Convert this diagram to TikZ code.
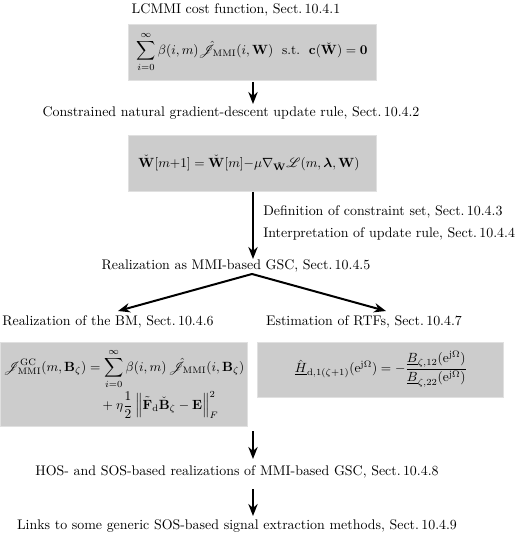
\documentclass[tikz,border=0pt]{standalone}
\usepackage{amsmath,amssymb,mathrsfs,bm}
\usetikzlibrary{arrows.meta}
\begin{document}
\begin{tikzpicture}[x=0.75pt,y=-0.75pt,
  lbl/.style={inner sep=0pt,anchor=center,scale=1.045},
  mth/.style={inner sep=0pt,anchor=center},
  mbox/.style={fill=black!20,draw=black!12,inner sep=0pt},
  arr/.style={line width=1.5pt,-{Stealth[length=9pt,width=7pt]}}]
\useasboundingbox (0,0) rectangle (517,538);
% titles
\node[lbl] (t1) at (236,10) {LCMMI cost function, Sect.\,10.4.1};
\node[lbl] (t2) at (231,113) {Constrained natural gradient-descent update rule, Sect.\,10.4.2};
\node[lbl] (t5) at (236,266) {Realization as MMI-based GSC, Sect.\,10.4.5};
\node[lbl] (t6) at (108,322) {Realization of the BM, Sect.\,10.4.6};
\node[lbl] (t7) at (364,322) {Estimation of RTFs, Sect.\,10.4.7};
\node[lbl] (t8) at (237,472) {HOS- and SOS-based realizations of MMI-based GSC, Sect.\,10.4.8};
\node[lbl] (t9) at (237,526) {Links to some generic SOS-based signal extraction methods, Sect.\,10.4.9};
\node[lbl,anchor=west] (l3) at (263,212) {Definition of constraint set, Sect.\,10.4.3};
\node[lbl,anchor=west] (l4) at (263,234) {Interpretation of update rule, Sect.\,10.4.4};
% boxes
\path[mbox] (128,24) rectangle (376,80);
\node[mth] (b1) at (252,52) {$\displaystyle\sum_{i=0}^{\infty}\beta(i,m)\hat{\mathscr{J}}_{\mathrm{MMI}}(i,\mathbf{W})\ \ \text{s.t.}\ \ \mathbf{c}(\check{\mathbf{W}})=\mathbf{0}$};
\path[mbox] (128,135) rectangle (376,191);
\node[mth] (b2) at (249,163) {$\check{\mathbf{W}}[m{+}1]=\check{\mathbf{W}}[m]{-}\mu\nabla_{\check{\mathbf{W}}}\mathscr{L}(m,\bm{\lambda},\mathbf{W})$};
\path[mbox] (0,342) rectangle (247,426);
\node[mth] (b3) at (124,384) {$\begin{aligned}\mathscr{J}^{\mathrm{GC}}_{\mathrm{MMI}}(m,\mathbf{B}_\zeta)&=\sum_{i=0}^{\infty}\beta(i,m)\,\hat{\mathscr{J}}_{\mathrm{MMI}}(i,\mathbf{B}_\zeta)\\[-2pt]
&\quad+\eta\frac{1}{2}\left\|\tilde{\mathbf{F}}_{\mathrm{d}}\check{\mathbf{B}}_\zeta-\mathbf{E}\right\|_F^2\end{aligned}$};
\path[mbox] (257,342) rectangle (503,397);
\node[mth] (b4) at (381,369) {$\hat{\underline{H}}_{\mathrm{d},1(\zeta+1)}(\mathrm{e}^{\mathrm{j}\Omega})=-\dfrac{\underline{B}_{\zeta,12}(\mathrm{e}^{\mathrm{j}\Omega})}{\underline{B}_{\zeta,22}(\mathrm{e}^{\mathrm{j}\Omega})}$};
% arrows
\coordinate (a1s) at (253,82); \coordinate (a1e) at (253,104);
\coordinate (a2s) at (253,192); \coordinate (a2e) at (253,259);
\coordinate (br) at (252,274);
\coordinate (bl) at (118,311); \coordinate (brr) at (386,311);
\coordinate (a4s) at (253,431); \coordinate (a4e) at (253,459);
\coordinate (a5s) at (253,489); \coordinate (a5e) at (253,516);
\draw[arr] (a1s) -- (a1e);
\draw[arr] (a2s) -- (a2e);
\draw[arr] (br) -- (bl);
\draw[arr] (br) -- (brr);
\draw[arr] (a4s) -- (a4e);
\draw[arr] (a5s) -- (a5e);
\end{tikzpicture}
\end{document}
